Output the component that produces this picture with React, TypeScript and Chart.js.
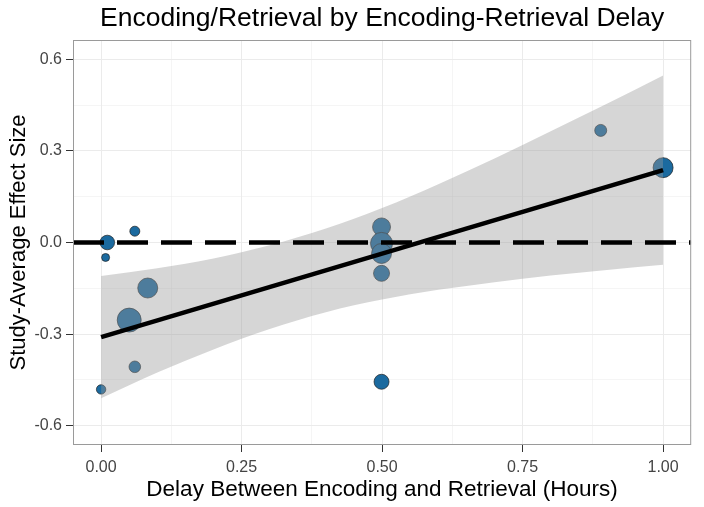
import React, { useEffect, useRef } from 'react';
import { Chart, registerables } from 'chart.js';

Chart.register(...registerables);

// Study points (delay in hours, study-average effect size, bubble radius)
const pointDelay = [0.0, 0.008, 0.011, 0.060, 0.060, 0.050, 0.083, 0.499, 0.499, 0.499, 0.499, 0.499, 0.889, 1.0];
const pointEffect = [-0.481, -0.049, 0.0, 0.037, -0.407, -0.254, -0.149, 0.051, -0.003, -0.036, -0.101, -0.456, 0.367, 0.245];
const pointSize = [4.7, 4, 7.3, 5, 5.8, 12, 10, 9, 11, 10, 8, 7.5, 6, 10];

// Linear fit
const fitDelay = [0, 1];
const fitEffect = [-0.31, 0.237];

// Confidence band
const bandDelay = [0, 0.1, 0.2, 0.3, 0.4, 0.5, 0.6, 0.7, 0.8, 0.9, 1.0];
const bandUpper = [-0.11, -0.084, -0.052, -0.009, 0.046, 0.113, 0.191, 0.275, 0.364, 0.454, 0.547];
const bandLower = [-0.51, -0.426, -0.35, -0.283, -0.228, -0.187, -0.155, -0.13, -0.108, -0.09, -0.073];

// Reference line at zero
const refDelay = [-0.05, 1.05];
const refEffect = [0, 0];

// Axes
const xRange = [-0.05, 1.05];
const yRange = [-0.663, 0.663];
const xMajorTicks = [0, 0.25, 0.5, 0.75, 1];
const xMinorTicks = [0.125, 0.375, 0.625, 0.875];
const xTickLabels = ['0.00', '0.25', '0.50', '0.75', '1.00'];
const yMajorTicks = [-0.6, -0.3, 0, 0.3, 0.6];
const yMinorTicks = [-0.45, -0.15, 0.15, 0.45];
const yTickLabels = ['-0.6', '-0.3', '0.0', '0.3', '0.6'];

const FONT = '"Liberation Sans", Arial, Helvetica, sans-serif';

const majorIndex = (majors: number[], v: number) => majors.findIndex((m) => Math.abs(m - v) < 1e-9);

const panelBorder = {
  id: 'panelBorder',
  afterDraw(chart: any) {
    const { ctx, chartArea } = chart;
    ctx.save();
    ctx.strokeStyle = '#9a9a9a';
    ctx.lineWidth = 1;
    ctx.strokeRect(chartArea.left + 0.5, chartArea.top + 0.5, chartArea.right - chartArea.left - 1, chartArea.bottom - chartArea.top - 1);
    ctx.restore();
  },
};

export default function App() {
  const ref = useRef<HTMLCanvasElement | null>(null);

  useEffect(() => {
    if (!ref.current) return;
    const points = pointDelay.map((x, i) => ({ x, y: pointEffect[i], r: pointSize[i] }));
    const upper = bandDelay.map((x, i) => ({ x, y: bandUpper[i] }));
    const lower = bandDelay.map((x, i) => ({ x, y: bandLower[i] }));
    const fit = fitDelay.map((x, i) => ({ x, y: fitEffect[i] }));
    const refLine = refDelay.map((x, i) => ({ x, y: refEffect[i] }));

    const makeScale = (majors: number[], minors: number[], labels: string[], range: number[], title: string, isX: boolean) => ({
      type: 'linear',
      min: range[0],
      max: range[1],
      afterBuildTicks: (scale: any) => {
        scale.ticks = [...majors, ...minors].sort((a, b) => a - b).map((v) => ({ value: v }));
      },
      afterFit: (scale: any) => {
        if (isX) scale.height = 62;
        else scale.width = 73;
      },
      ticks: {
        autoSkip: false,
        maxRotation: 0,
        padding: isX ? 6 : 4,
        color: '#444444',
        font: { family: FONT, size: 16 },
        callback: (v: number) => {
          const i = majorIndex(majors, v);
          return i >= 0 ? labels[i] : '';
        },
      },
      grid: {
        drawTicks: true,
        tickLength: 7,
        color: '#ebebeb',
        lineWidth: (ctx: any) => (ctx.tick && majorIndex(majors, ctx.tick.value) >= 0 ? 1 : 0.5),
        tickColor: (ctx: any) => (ctx.tick && majorIndex(majors, ctx.tick.value) >= 0 ? '#333333' : 'rgba(0,0,0,0)'),
        tickWidth: 1,
      },
      border: { display: false },
      title: {
        display: true,
        text: title,
        color: '#000000',
        font: { family: FONT, size: isX ? 22.5 : 22 },
        padding: isX ? { top: 0, bottom: 4 } : { top: 6, bottom: 0 },
      },
    });

    const chart = new Chart(ref.current, {
      type: 'scatter',
      data: {
        datasets: [
          {
            type: 'bubble',
            data: points,
            backgroundColor: '#1b6a9f',
            borderColor: 'rgba(30,30,30,0.85)',
            borderWidth: 0.8,
            order: 5,
          } as any,
          {
            type: 'line',
            data: lower,
            borderWidth: 0,
            pointRadius: 0,
            cubicInterpolationMode: 'monotone',
            fill: false,
            order: 4,
          },
          {
            type: 'line',
            data: upper,
            borderWidth: 0,
            borderColor: 'rgba(0,0,0,0)',
            pointRadius: 0,
            cubicInterpolationMode: 'monotone',
            fill: '-1',
            backgroundColor: 'rgba(153,153,153,0.4)',
            order: 4,
          },
          {
            type: 'line',
            data: fit,
            borderColor: '#000000',
            borderWidth: 4.5,
            pointRadius: 0,
            fill: false,
            order: 2,
          },
          {
            type: 'line',
            data: refLine,
            borderColor: '#000000',
            borderWidth: 4.5,
            borderDash: [31, 13],
            pointRadius: 0,
            fill: false,
            order: 1,
          },
        ],
      },
      options: {
        responsive: false,
        animation: false,
        events: [],
        layout: { padding: { left: 0, right: 9, top: 0, bottom: 0 } },
        plugins: {
          legend: { display: false },
          tooltip: { enabled: false },
          title: {
            display: true,
            fullSize: false,
            text: 'Encoding/Retrieval by Encoding-Retrieval Delay',
            color: '#000000',
            font: { family: FONT, size: 26.5, weight: 'normal' },
            padding: { top: 2.5, bottom: 5.7 },
          },
        },
        scales: {
          x: makeScale(xMajorTicks, xMinorTicks, xTickLabels, xRange, 'Delay Between Encoding and Retrieval (Hours)', true),
          y: makeScale(yMajorTicks, yMinorTicks, yTickLabels, yRange, 'Study-Average Effect Size', false),
        } as any,
      },
      plugins: [panelBorder],
    });
    return () => chart.destroy();
  }, []);

  return (
    <div style={{ position: 'fixed', left: 0, top: 0, width: 704, height: 507, background: '#ffffff' }}>
      <canvas ref={ref} width={704} height={507} style={{ display: 'block' }} />
    </div>
  );
}
